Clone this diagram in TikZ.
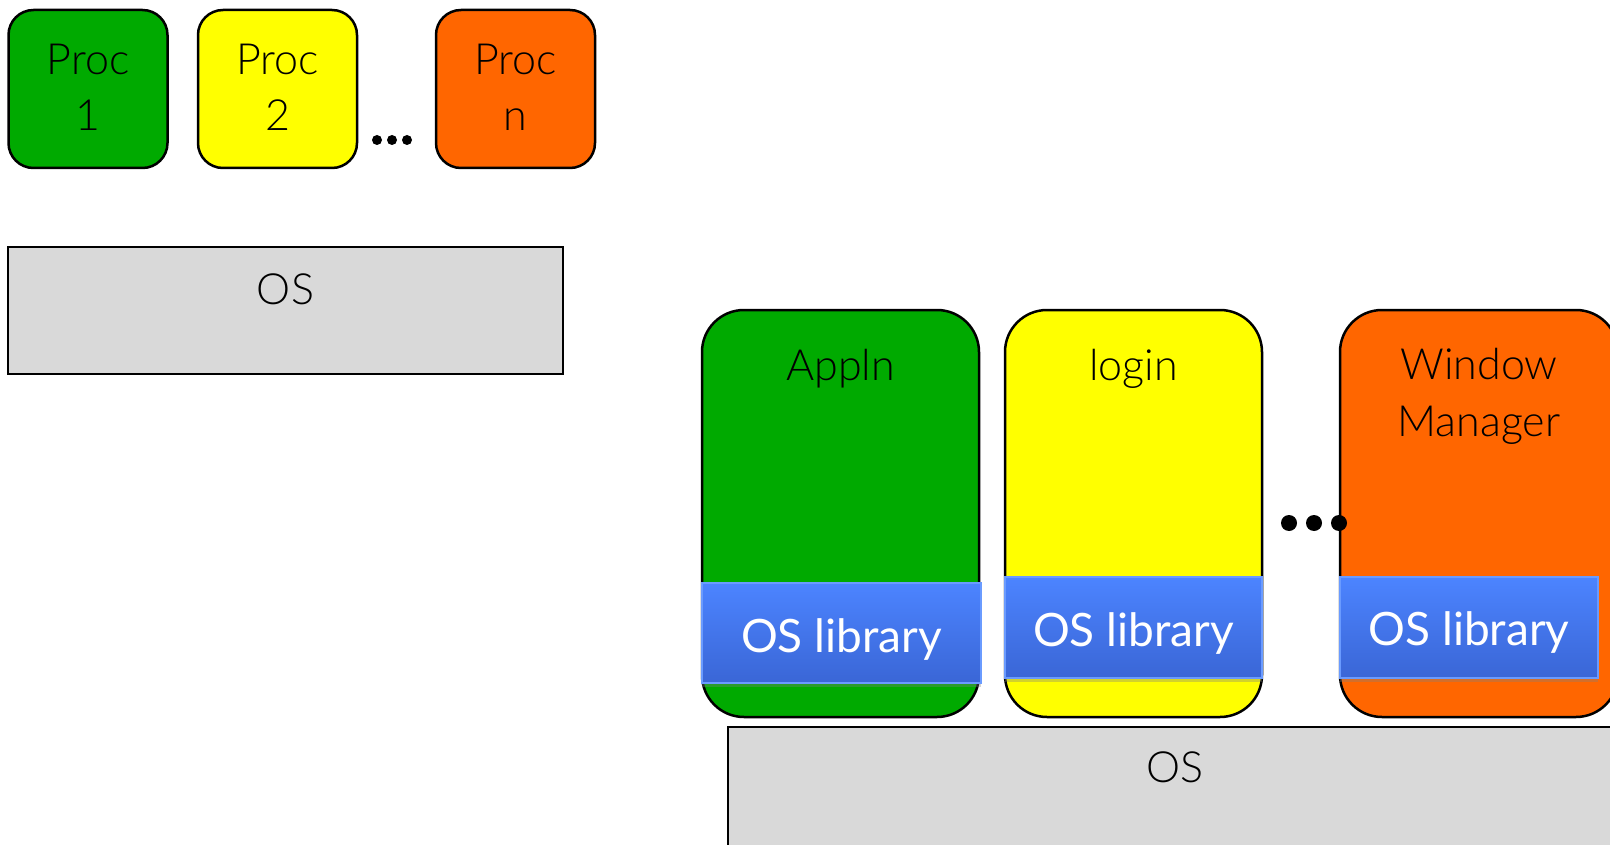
\documentclass[tikz,border=0pt]{standalone}
\usepackage{fontspec}
\setmainfont{Lato}
\newfontfamily\lightfont{Lato Light}
\usetikzlibrary{shadows}
\definecolor{pgreen}{HTML}{00AA00}
\definecolor{pyellow}{HTML}{FFFF00}
\definecolor{porange}{HTML}{FF6600}
\definecolor{osgray}{HTML}{D9D9D9}
\definecolor{libtop}{HTML}{4C84FF}
\definecolor{libbot}{HTML}{3A66D6}
\definecolor{libedge}{HTML}{6A9BFF}
\begin{document}
\begin{tikzpicture}[x=1pt,y=-1pt,
  procbox/.style={draw=black,line width=2.5pt,rounded corners=25pt,minimum width=159pt,minimum height=158pt,inner sep=0pt},
  appbox/.style={draw=black,line width=2.5pt,rounded corners=42pt,minimum height=407pt,inner sep=0pt},
  osbox/.style={draw=black,line width=2pt,fill=osgray,inner sep=0pt},
  libbox/.style={draw=libedge,line width=1.2pt,top color=libtop,bottom color=libbot,drop shadow={opacity=0.35,shadow xshift=0pt,shadow yshift=-4pt},inner sep=0pt},
  lbl/.style={font=\lightfont\fontsize{43}{57}\selectfont,inner sep=0pt,anchor=base},
  liblbl/.style={font=\fontsize{46}{50}\selectfont,text=white,inner sep=0pt,anchor=base},
  dotmark/.style={circle,fill=black,inner sep=0pt}]
\clip (0,0) rectangle (1610,845);
\fill[white] (0,0) rectangle (1610,845);
% top row
\node[procbox,fill=pgreen] (p1) at (88,89) {};
\node[procbox,fill=pyellow] (p2) at (277.5,89) {};
\node[procbox,fill=porange] (pn) at (515.5,89) {};
\node[lbl] (p1a) at (88,75) {Proc};
\node[lbl] (p1b) at (88,131) {1};
\node[lbl] (p2a) at (277.5,75) {Proc};
\node[lbl] (p2b) at (277.5,131) {2};
\node[lbl] (pna) at (515.5,75) {Proc};
\node[lbl] (pnb) at (515.5,131) {n};
\node[dotmark,minimum size=10pt] (d1) at (377,140) {};
\node[dotmark,minimum size=10pt] (d2) at (392,140) {};
\node[dotmark,minimum size=10pt] (d3) at (407,140) {};
\node[osbox,minimum width=555pt,minimum height=127pt] (os1) at (285.5,310.5) {};
\node[lbl] (os1t) at (285.5,305) {OS};
% right part
\node[appbox,fill=pgreen,minimum width=277pt] (app) at (840.5,513.5) {};
\node[appbox,fill=pyellow,minimum width=257pt] (login) at (1133.5,513.5) {};
\node[appbox,fill=porange,minimum width=278pt] (wm) at (1479,513.5) {};
\node[lbl] (appt) at (840.5,380) {Appln};
\node[lbl] (logint) at (1133.5,380) {login};
\node[lbl] (wmt1) at (1479,379) {Window};
\node[lbl] (wmt2) at (1479,436) {Manager};
\node[libbox,minimum width=279pt,minimum height=100pt] (lib1) at (841.5,633) {};
\node[libbox,minimum width=257pt,minimum height=101pt] (lib2) at (1133.5,627.5) {};
\node[libbox,minimum width=258pt,minimum height=101pt] (lib3) at (1469,627.5) {};
\node[liblbl] (lib1t) at (841.5,652) {OS library};
\node[liblbl] (lib2t) at (1133.5,646) {OS library};
\node[liblbl] (lib3t) at (1469,645) {OS library};
\node[dotmark,minimum size=16pt] (e1) at (1289,523) {};
\node[dotmark,minimum size=16pt] (e2) at (1314,523) {};
\node[dotmark,minimum size=16pt] (e3) at (1339,523) {};
\node[osbox,minimum width=894pt,minimum height=173pt] (os2) at (1175,813.5) {};
\node[lbl] (os2t) at (1175,782) {OS};
\end{tikzpicture}
\end{document}
